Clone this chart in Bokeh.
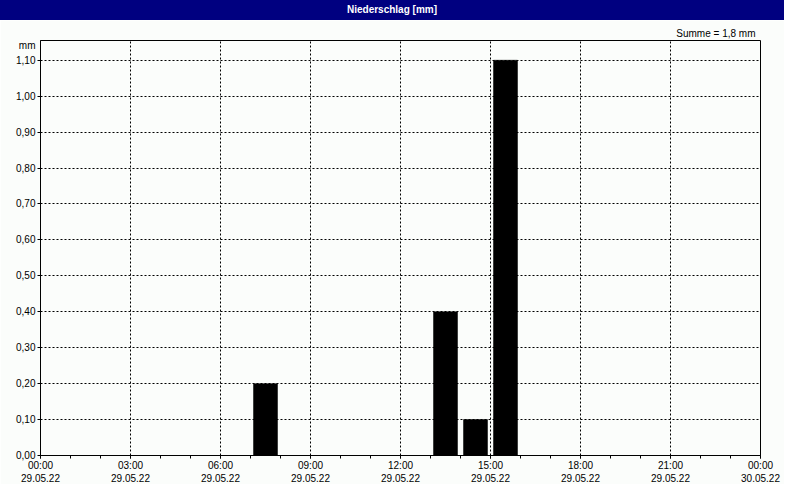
from bokeh.plotting import figure
from bokeh.models import Range1d, FixedTicker, LinearAxis, Grid, Div, Title
from bokeh.layouts import column
from bokeh.embed import file_html
from bokeh.resources import INLINE

# ---- data ----
hours = [7, 13, 14, 15]                 # start hour of each hourly interval
precip = [0.20, 0.40, 0.10, 1.10]       # mm per hour
x_ticks = [0, 3, 6, 9, 12, 15, 18, 21, 24]
time_labels = ["00:00", "03:00", "06:00", "09:00", "12:00", "15:00", "18:00", "21:00", "00:00"]
date_labels = ["29.05.22", "29.05.22", "29.05.22", "29.05.22", "29.05.22",
               "29.05.22", "29.05.22", "29.05.22", "30.05.22"]
y_ticks = [0.0, 0.1, 0.2, 0.3, 0.4, 0.5, 0.6, 0.7, 0.8, 0.9, 1.0, 1.1]
y_labels = ["0,00", "0,10", "0,20", "0,30", "0,40", "0,50", "0,60", "0,70", "0,80", "0,90", "1,00", "1,10"]
title_text = "Niederschlag [mm]"
sum_text = "Summe = 1,8 mm"
unit_text = "mm"

FONT = "Liberation Sans"
BG = "#FBFDFB"
NAVY = "#000080"

y_top = max(y_ticks) * 1.05
unit_pos = y_top * 0.988   # unit label sits just under the top of the axis

title_bar = Div(text=title_text, width=784, height=20, margin=0,
                styles={"background-color": NAVY, "color": "white",
                        "font-family": FONT, "font-size": "10px", "font-weight": "bold",
                        "text-align": "center", "line-height": "20px"})

p = figure(width=784, height=464, output_backend="svg", toolbar_location=None,
           x_range=Range1d(0, 24), y_range=Range1d(0, y_top),
           x_axis_type=None, y_axis_type=None,
           min_border_left=40, min_border_right=24, min_border_top=20, min_border_bottom=26,
           background_fill_color=BG, border_fill_color=BG, margin=0)

p.outline_line_color = "black"
p.outline_line_width = 1

# "Summe" line, right aligned above the frame
sum_title = Title(text=sum_text, align="right", offset=5, standoff=4,
                  text_font=FONT, text_font_size="10px", text_font_style="normal",
                  text_color="black")
p.add_layout(sum_title, "above")

# x axis: time line
xt = FixedTicker(ticks=x_ticks, minor_ticks=list(range(0, 25)))
ax1 = LinearAxis(ticker=xt)
ax1.major_label_overrides = {t: l for t, l in zip(x_ticks, time_labels)}
ax1.major_tick_in = 0
ax1.major_tick_out = 3
ax1.minor_tick_in = 0
ax1.minor_tick_out = 3
ax1.major_label_standoff = 1
ax1.major_label_text_font = FONT
ax1.major_label_text_font_size = "10px"
ax1.major_label_text_color = "black"
ax1.axis_line_color = "black"
p.add_layout(ax1, "below")

# x axis: date line
ax2 = LinearAxis(ticker=FixedTicker(ticks=x_ticks, minor_ticks=[]))
ax2.major_label_overrides = {t: l for t, l in zip(x_ticks, date_labels)}
ax2.axis_line_color = None
ax2.major_tick_line_color = None
ax2.minor_tick_line_color = None
ax2.major_tick_in = 0
ax2.major_tick_out = 0
ax2.major_label_standoff = 0
ax2.major_label_text_font = FONT
ax2.major_label_text_font_size = "10px"
ax2.major_label_text_color = "black"
p.add_layout(ax2, "below")

# y axis: labelled ticks (incl. unit) without marks, tick marks drawn as minor ticks
yt = FixedTicker(ticks=y_ticks, minor_ticks=[])
ay = LinearAxis(ticker=FixedTicker(ticks=y_ticks + [unit_pos], minor_ticks=y_ticks))
overrides = {t: l for t, l in zip(y_ticks, y_labels)}
overrides[unit_pos] = unit_text
ay.major_label_overrides = overrides
ay.major_tick_line_color = None
ay.major_tick_in = 0
ay.major_tick_out = 3
ay.minor_tick_in = 0
ay.minor_tick_out = 3
ay.minor_tick_line_color = "black"
ay.major_label_standoff = 2
ay.major_label_text_font = FONT
ay.major_label_text_font_size = "10px"
ay.major_label_text_color = "black"
ay.axis_line_color = "black"
p.add_layout(ay, "left")

# grids
p.add_layout(Grid(dimension=0, ticker=xt, grid_line_color="black", grid_line_dash="2 2"))
p.add_layout(Grid(dimension=1, ticker=yt, grid_line_color="black", grid_line_dash="2 2"))

# bars (hourly, centred on the interval)
p.vbar(x=[h + 0.5 for h in hours], top=precip, width=0.8,
       fill_color="black", line_color="black", line_width=0.5)

layout = column(title_bar, p, spacing=0)
open("out.html", "w").write(file_html(layout, INLINE))
